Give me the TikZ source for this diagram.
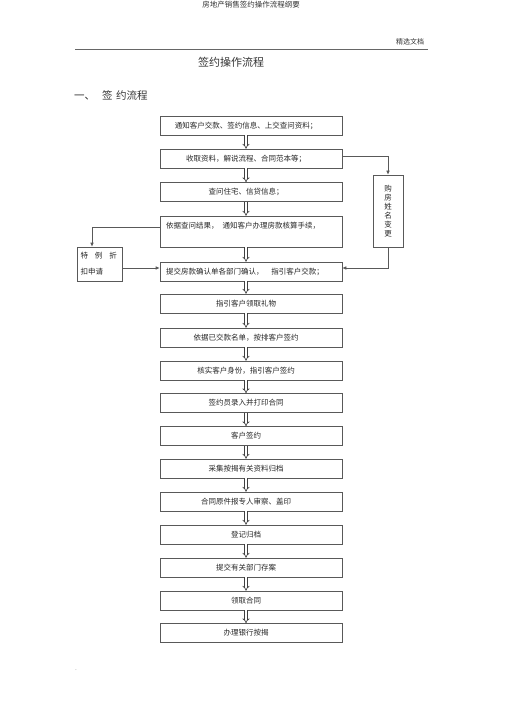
\documentclass[tikz,border=0pt]{standalone}
\usepackage{fontspec}
\setmainfont{Noto Sans CJK SC}
\usetikzlibrary{arrows.meta,calc}
\begin{document}
\begin{tikzpicture}[x=1pt,y=-1pt,
  box/.style={draw=black!65, line width=0.6pt, minimum width=182pt, minimum height=19pt,
    inner sep=0pt, font=\fontsize{7.5}{9}\selectfont, text=black!85},
  cbox/.style={box, execute at end node={\hspace{10pt}}},
  flow/.style={draw=black!75, double=white, double distance=1.8pt, line width=0.65pt, -{Implies[length=3pt]}},
  link/.style={draw=black!65, line width=0.6pt, -{Latex[length=4pt,width=3.5pt]}},
  txt/.style={inner sep=0pt, text=black!80}]
\useasboundingbox (0,0) rectangle (505,714);

% header
\node[txt, font=\fontsize{7.5}{9}\selectfont] (hdr) at (251,5) {房地产销售签约操作流程纲要};
\node[txt, font=\fontsize{7}{9}\selectfont] (sel) at (410,42) {精选文档};
\coordinate (hl) at (75,49);
\coordinate (hr) at (428,49);
\draw[black!60, line width=0.6pt] (hl) -- (hr);
\node[txt, font=\fontsize{11}{13}\selectfont] (title) at (231,62) {签约操作流程};
\node[txt, anchor=west, font=\fontsize{10.5}{12}\selectfont] (sec) at (74,95) {一、\hspace{7pt}签\hspace{3.5pt}约流程};

% main column
\node[cbox] (b1) at (251,125.5) {通知客户交款、签约信息、上交查问资料；};
\node[cbox] (b2) at (251,158.5) {收取资料，解说流程、合同范本等；};
\node[cbox] (b3) at (251,192) {查问住宅、信贷信息；};
\node[box, minimum height=31pt, text width=170pt, align=left, text height=9.5pt, text depth=16.5pt, inner ysep=2.5pt, inner xsep=6pt] (b4) at (251,231.5) {依据查问结果，\hspace{4pt}通知客户办理房款核算手续，};
\node[box, text width=170pt, align=left, inner xsep=6pt] (b5) at (251,271.5) {提交房款确认单各部门确认，\hspace{8pt}指引客户交款；};
\node[cbox] (b6) at (251,303.5) {指引客户领取礼物};
\node[cbox] (b7) at (251,337.5) {依据已交款名单，按排客户签约};
\node[cbox] (b8) at (251,370.5) {核实客户身份，指引客户签约};
\node[cbox] (b9) at (251,403) {签约员录入并打印合同};
\node[cbox] (b10) at (251,436) {客户签约};
\node[cbox] (b11) at (251,468.5) {采集按揭有关资料归档};
\node[cbox] (b12) at (251,501.5) {合同原件报专人审察、盖印};
\node[cbox] (b13) at (251,534.5) {登记归档};
\node[cbox] (b14) at (251,567.5) {提交有关部门存案};
\node[cbox] (b15) at (251,600.5) {领取合同};
\node[cbox] (b16) at (251,633) {办理银行按揭};

% side boxes
\node[box, minimum width=30pt, minimum height=72pt, align=center, font=\fontsize{7.5}{9}\selectfont] (rb) at (388,211) {购\\房\\姓\\名\\变\\更};
\node[box, minimum width=45pt, minimum height=34pt, text width=38pt, inner xsep=3.5pt, align=left, font=\fontsize{7.5}{16}\selectfont] (lb) at (99.5,264) {\mbox{特\hspace{7pt}例\hspace{7pt}折}\\扣申请};

% flow arrows
\foreach \a/\b in {b1/b2,b2/b3,b3/b4,b4/b5,b5/b6,b6/b7,b7/b8,b8/b9,b9/b10,b10/b11,b11/b12,b12/b13,b13/b14,b14/b15,b15/b16}
  \draw[flow] ([xshift=-5pt]\a.south) -- ([xshift=-5pt]\b.north);

% side connectors
\draw[link] ([yshift=2pt]b2.east) -| (rb.north);
\draw[link] (rb.south) |- ([yshift=3.5pt]b5.east);
\draw[link] ([yshift=4.5pt]b4.west) -| ([xshift=-7.5pt]lb.north);
\draw[link] ([yshift=-4pt]lb.east) -- ([yshift=3.5pt]b5.west);

\node[txt, font=\fontsize{5}{6}\selectfont] (dot) at (76,670) {.};
\end{tikzpicture}
\end{document}
